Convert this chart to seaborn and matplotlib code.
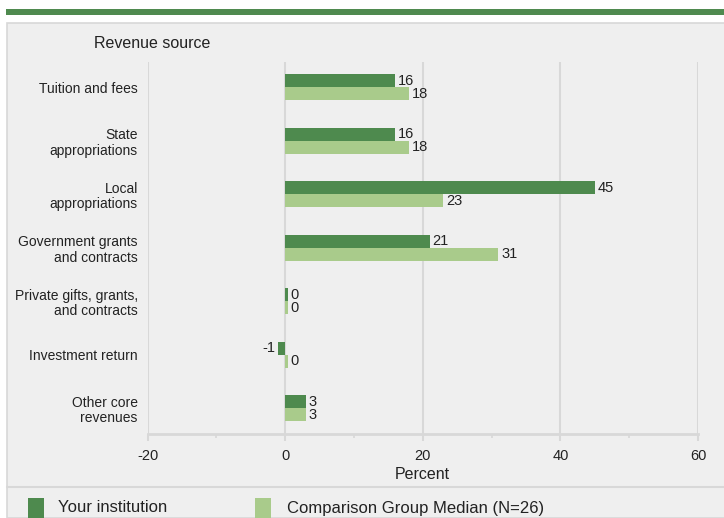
import matplotlib
matplotlib.use("Agg")
import matplotlib.pyplot as plt
from matplotlib.patches import Rectangle
from matplotlib.lines import Line2D
from matplotlib.ticker import MultipleLocator
import seaborn as sns
import pandas as pd

categories = [
    "Tuition and fees",
    "State\nappropriations",
    "Local\nappropriations",
    "Government grants\nand contracts",
    "Private gifts, grants,\nand contracts",
    "Investment return",
    "Other core\nrevenues",
]
series_names = ["Your institution", "Comparison Group Median (N=26)"]
your_values = [16, 16, 45, 21, 0.4, -1, 3]
comparison_values = [18, 18, 23, 31, 0.4, 0.4, 3]
your_labels = ["16", "16", "45", "21", "0", "-1", "3"]
comparison_labels = ["18", "18", "23", "31", "0", "0", "3"]
x_ticks = [-20, 0, 20, 40, 60]

DARK = "#4e8a4e"
LIGHT = "#a9cb8b"
BG = "#efefef"
GRID = "#d8d8d8"

sns.set_theme(style="white")
plt.rcParams["font.family"] = ["Liberation Sans", "DejaVu Sans"]
plt.rcParams["axes.unicode_minus"] = False

df = pd.DataFrame({
    "Category": categories * 2,
    "Series": [series_names[0]] * len(categories) + [series_names[1]] * len(categories),
    "Value": your_values + comparison_values,
})

fig = plt.figure(figsize=(7.24, 5.18), dpi=100)
fig.patch.set_facecolor("white")
W, H = 724, 518

# panel background
fig.add_artist(Rectangle((7 / W, 0), 1.0, 1 - 23 / H, transform=fig.transFigure,
                         facecolor=BG, edgecolor=GRID, linewidth=1.2, zorder=0))
# top green band
fig.add_artist(Rectangle((6 / W, 1 - 14.5 / H), 1.0, 5.5 / H, transform=fig.transFigure,
                         facecolor="#4f8a4f", edgecolor="none", zorder=1))
# separator line
fig.add_artist(Line2D([7 / W, 1], [1 - 487 / H, 1 - 487 / H], transform=fig.transFigure,
                      color=GRID, linewidth=1.5, zorder=1))

left, right = 147.5 / W, 698 / W
bottom, top = 1 - 434 / H, 1 - 62 / H
ax = fig.add_axes([left, bottom, right - left, top - bottom])
ax.set_facecolor(BG)

sns.barplot(data=df, y="Category", x="Value", hue="Series", orient="h",
            palette=[DARK, LIGHT], width=0.48, saturation=1, legend=False,
            linewidth=0, edgecolor="none", ax=ax, zorder=3)

for cont, labs in zip(ax.containers, [your_labels, comparison_labels]):
    texts = ax.bar_label(cont, labels=labs, padding=2, fontsize=10.5, color="#222222")
    for t in texts:
        t.set_y(t.get_position()[1] + 0.03)

ax.set_xlim(-20, 60)
ax.set_ylim(6.48, -0.47)
ax.set_xticks(x_ticks)
ax.xaxis.set_minor_locator(MultipleLocator(10))
ax.grid(axis="x", which="major", color=GRID, linewidth=1.5, zorder=0)
ax.set_axisbelow(True)
for s in ["top", "right", "left"]:
    ax.spines[s].set_visible(False)
ax.spines["bottom"].set_color(GRID)
ax.spines["bottom"].set_linewidth(2)
ax.tick_params(axis="x", which="major", length=5, color=GRID, width=1.5,
               labelsize=10.5, pad=6, labelcolor="#222222", bottom=True)
ax.tick_params(axis="x", which="minor", length=3, color=GRID, width=1.2, bottom=True)
ax.tick_params(axis="y", length=0, pad=7, labelsize=10, labelcolor="#222222")
for t in ax.get_yticklabels():
    t.set_horizontalalignment("right")
    t.set_multialignment("right")
    t.set_linespacing(1.12)
ax.set_ylabel("")
ax.set_xlabel("Percent", fontsize=11.5, color="#222222", labelpad=3)

fig.text(94 / W, 1 - 43 / H, "Revenue source", fontsize=11.5, color="#222222",
         va="center", ha="left")

# legend
for (x0, lab, col, tx) in [(28, series_names[0], DARK, 58), (255, series_names[1], LIGHT, 287)]:
    fig.add_artist(Rectangle((x0 / W, 1 - 518 / H), 16 / W, 20 / H, transform=fig.transFigure,
                             facecolor=col, edgecolor="none", zorder=2))
    fig.text(tx / W, 1 - 508 / H, lab, fontsize=12, color="#222222", va="center", ha="left")

fig.savefig("out.png", dpi=100, facecolor="white")
